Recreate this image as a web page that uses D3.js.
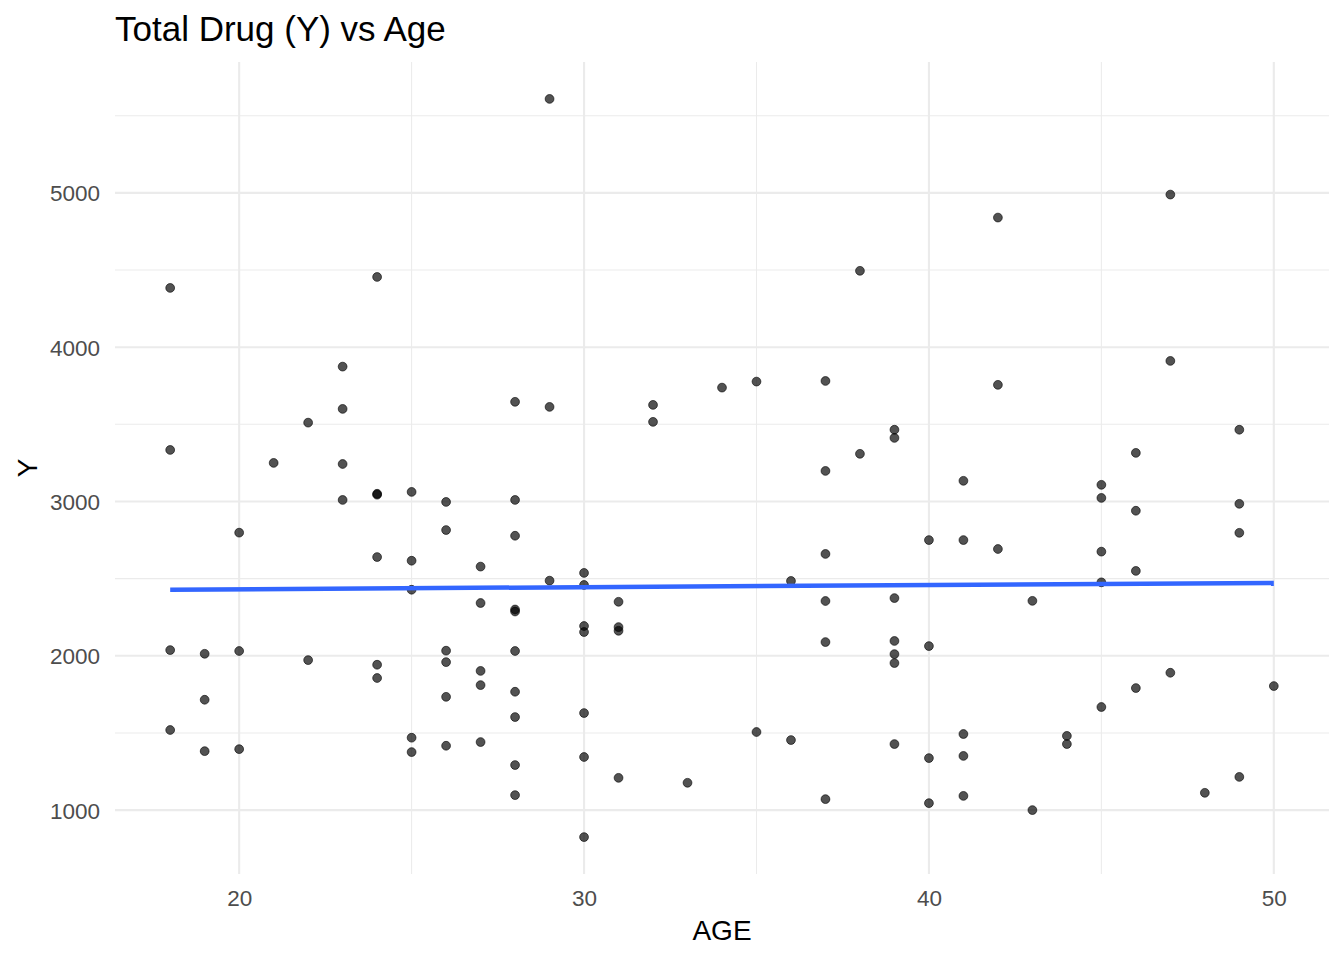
<!DOCTYPE html>
<html>
<head>
<meta charset="utf-8">
<script src="https://cdn.jsdelivr.net/npm/d3@7"></script>
<style>
  html, body { margin: 0; padding: 0; background: #fff; }
  svg { display: block; font-family: "Liberation Sans", Arial, sans-serif; }
</style>
</head>
<body>
<svg id="chart" width="1344" height="960"></svg>
<script>
// ---- data ----
const title = "Total Drug (Y) vs Age";
const xLabel = "AGE";
const yLabel = "Y";
const xTicks = [20, 30, 40, 50];
const yTicks = [1000, 2000, 3000, 4000, 5000];
const xMinor = [25, 35, 45];
const yMinor = [1500, 2500, 3500, 4500, 5500];

const age = [
  18,18,18,18,
  19,19,19,
  20,20,20,
  21,
  22,22,
  23,23,23,23,
  24,24,24,24,24,24,
  25,25,25,25,25,
  26,26,26,26,26,26,
  27,27,27,27,27,
  28,28,28,28,28,28,28,28,28,28,
  29,29,29,
  30,30,30,30,30,30,30,
  31,31,31,31,
  32,32,
  33,
  34,
  35,35,
  36,36,
  37,37,37,37,37,37,
  38,38,
  39,39,39,39,39,39,39,
  40,40,40,40,
  41,41,41,41,41,
  42,42,42,
  43,43,
  44,44,
  45,45,45,45,45,
  46,46,46,46,
  47,47,47,
  48,
  49,49,49,49,
  50
];
const totalDrug = [
  4384,3334,2037,1519,
  2013,1715,1382,
  2798,2031,1395,
  3250,
  3511,1972,
  3874,3600,3243,3010,
  4455,3050,3044,2640,1942,1856,
  3062,2616,2428,1469,1376,
  2997,2815,2033,1959,1734,1417,
  2578,2342,1902,1810,1441,
  3646,3010,2778,2300,2287,2031,1767,1603,1292,1097,
  5609,3613,2487,
  2537,2459,2193,2154,1629,1344,825,
  2350,2186,2162,1209,
  3626,3516,
  1177,
  3738,
  3777,1506,
  2485,1454,
  3781,3198,2660,2355,2089,1071,
  4495,3309,
  3465,3412,2374,2096,2011,1953,1428,
  2750,2063,1337,1045,
  3134,2750,1493,1351,1092,
  4840,3756,2692,
  2356,1000,
  1481,1428,
  3108,3023,2675,2476,1668,
  3315,2940,2550,1791,
  4989,3911,1890,
  1112,
  3465,2985,2797,1215,
  1804
];

// ---- layout ----
const svg = d3.select("#chart");
const panel = { left: 115, right: 1329, top: 62, bottom: 874 };

const points = age.map((a, i) => ({ x: a, y: totalDrug[i] }));

const xExt = d3.extent(age), yExt = d3.extent(totalDrug);
const xPad = (xExt[1] - xExt[0]) * 0.05, yPad = (yExt[1] - yExt[0]) * 0.05;

const x = d3.scaleLinear().domain([xExt[0] - xPad, xExt[1] + xPad]).range([panel.left, panel.right]);
const y = d3.scaleLinear().domain([yExt[0] - yPad, yExt[1] + yPad]).range([panel.bottom, panel.top]);

const grid = svg.append("g");
// minor grid
grid.selectAll(".ymin").data(yMinor).join("line")
  .attr("x1", panel.left).attr("x2", panel.right)
  .attr("y1", d => y(d)).attr("y2", d => y(d))
  .attr("stroke", "#EBEBEB").attr("stroke-width", 1.05);
grid.selectAll(".xmin").data(xMinor).join("line")
  .attr("y1", panel.top).attr("y2", panel.bottom)
  .attr("x1", d => x(d)).attr("x2", d => x(d))
  .attr("stroke", "#EBEBEB").attr("stroke-width", 1.05);
// major grid
grid.selectAll(".ymaj").data(yTicks).join("line")
  .attr("x1", panel.left).attr("x2", panel.right)
  .attr("y1", d => y(d)).attr("y2", d => y(d))
  .attr("stroke", "#EBEBEB").attr("stroke-width", 2.1);
grid.selectAll(".xmaj").data(xTicks).join("line")
  .attr("y1", panel.top).attr("y2", panel.bottom)
  .attr("x1", d => x(d)).attr("x2", d => x(d))
  .attr("stroke", "#EBEBEB").attr("stroke-width", 2.1);

// axes (labels only, theme_minimal)
const xAxis = svg.append("g").attr("transform", `translate(0,${panel.bottom})`)
  .call(d3.axisBottom(x).tickValues(xTicks).tickSize(0).tickPadding(32).tickFormat(d3.format("d")));
const yAxis = svg.append("g").attr("transform", `translate(${panel.left},0)`)
  .call(d3.axisLeft(y).tickValues(yTicks).tickSize(0).tickPadding(15).tickFormat(d3.format("d")));
[xAxis, yAxis].forEach(g => {
  g.select(".domain").remove();
  g.selectAll("text").attr("fill", "#4D4D4D").style("font-size", "22.5px")
    .style("font-family", "'Liberation Sans', Arial, sans-serif");
});
xAxis.selectAll("text").attr("dy", null).attr("y", 32);
yAxis.selectAll("text").attr("dy", "0.36em");

// points
svg.append("g").selectAll("circle").data(points).join("circle")
  .attr("cx", d => x(d.x)).attr("cy", d => y(d.y)).attr("r", 4.4)
  .attr("fill", "#000").attr("fill-opacity", 0.68)
  .attr("stroke", "#000").attr("stroke-opacity", 0.6).attr("stroke-width", 1);

// linear regression (geom_smooth method = "lm", se = FALSE)
const mx = d3.mean(age), my = d3.mean(totalDrug);
const sxy = d3.sum(points, d => (d.x - mx) * (d.y - my));
const sxx = d3.sum(points, d => (d.x - mx) ** 2);
const slope = sxy / sxx, intercept = my - slope * mx;
const fit = xExt.map(v => ({ x: v, y: intercept + slope * v }));
svg.append("path").datum(fit)
  .attr("d", d3.line().x(d => x(d.x)).y(d => y(d.y)))
  .attr("fill", "none").attr("stroke", "#3366FF").attr("stroke-width", 4.5);

// titles
svg.append("text").attr("x", 115).attr("y", 41).text(title)
  .attr("font-size", 35).attr("fill", "#000");
svg.append("text").attr("x", (panel.left + panel.right) / 2).attr("y", 940)
  .attr("text-anchor", "middle").attr("font-size", 28).attr("fill", "#000").text(xLabel);
svg.append("text").attr("transform", `translate(37,${(panel.top + panel.bottom) / 2}) rotate(-90)`)
  .attr("text-anchor", "middle").attr("font-size", 28).attr("fill", "#000").text(yLabel);
</script>
</body>
</html>
